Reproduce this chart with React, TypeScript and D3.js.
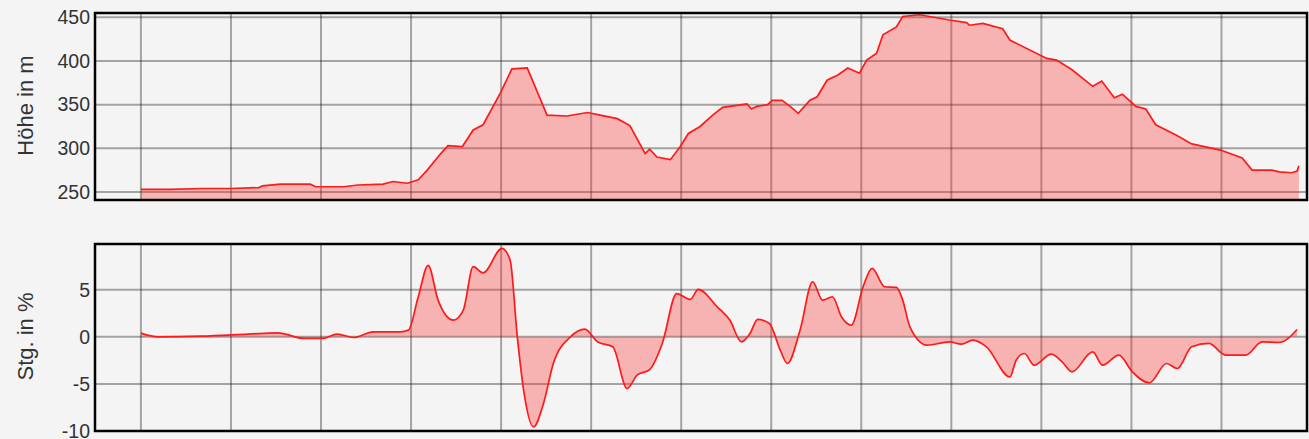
import React, { useEffect, useRef } from 'react';
import * as d3 from 'd3';

// Distance in km along the route
const elevKm = [
  0.0, 0.33, 0.67, 1.0, 1.31, 1.35, 1.55, 1.88, 1.94, 2.25, 2.41, 2.69, 2.8, 2.96, 3.08, 3.18, 3.33, 3.41, 3.57, 3.69,
  3.8, 3.99, 4.12, 4.29, 4.51, 4.73, 4.96, 5.1, 5.29, 5.43, 5.6, 5.65, 5.73, 5.88, 5.99, 6.08, 6.21, 6.35, 6.46, 6.73,
  6.78, 6.84, 6.96, 7.01, 7.12, 7.21, 7.3, 7.43, 7.51, 7.62, 7.74, 7.85, 7.98, 8.06, 8.17, 8.24, 8.39, 8.46, 8.65, 8.98,
  9.17, 9.2, 9.35, 9.57, 9.65, 10.06, 10.17, 10.34, 10.57, 10.67, 10.81, 10.9, 11.05, 11.16, 11.27, 11.5, 11.67, 11.99,
  12.23, 12.34, 12.56, 12.64, 12.78, 12.84, 12.86,
];
// Elevation in m
const elevM = [
  253, 253, 254, 254, 255, 257, 259, 259, 256, 256, 258, 259, 262, 260, 264, 275, 294, 303, 302, 321,
  327, 363, 391, 392, 338, 337, 341, 338, 334, 326, 294, 299, 290, 287, 302, 317, 325, 338, 347, 351,
  345, 348, 350, 355, 355, 348, 340, 355, 359, 378, 384, 392, 386, 401, 409, 430, 439, 451, 453, 447,
  444, 441, 443, 437, 424, 403, 401, 390, 371, 377, 358, 362, 348, 345, 327, 315, 305, 298,
  289, 275, 275, 273, 272, 274, 280,
];

const gradKm = [
  0.0, 0.19, 0.67, 1.19, 1.52, 1.81, 2.02, 2.18, 2.36, 2.58, 2.88, 2.97, 3.08, 3.19, 3.3, 3.47, 3.58, 3.69, 3.8, 4.01,
  4.1, 4.18, 4.25, 4.36, 4.47, 4.58, 4.77, 4.93, 5.07, 5.24, 5.4, 5.51, 5.65, 5.79, 5.95, 6.1, 6.19, 6.4, 6.54, 6.67,
  6.76, 6.85, 6.98, 7.1, 7.18, 7.32, 7.46, 7.57, 7.68, 7.78, 7.89, 8.02, 8.12, 8.26, 8.39, 8.46, 8.54, 8.73, 8.98, 9.11,
  9.24, 9.39, 9.65, 9.72, 9.81, 9.92, 10.11, 10.23, 10.34, 10.57, 10.68, 10.86, 11.01, 11.2, 11.39, 11.51, 11.67, 11.86,
  12.05, 12.27, 12.45, 12.64, 12.84,
];
// Gradient in %
const gradPct = [
  0.4, 0.0, 0.07, 0.29, 0.43, -0.17, -0.17, 0.29, -0.07, 0.53, 0.53, 0.71, 4.26, 7.6, 3.9, 1.78, 2.84, 7.45, 6.8, 9.4,
  8.16, 0, -5.67, -9.57, -7.1, -2.83, 0, 0.82, -0.53, -1.06, -5.49, -4.07, -3.47, -0.7, 4.6, 3.97, 5.04, 3.19, 1.78, -0.53,
  0.29, 1.85, 1.42, -1.42, -2.83, 0.71, 5.85, 3.9, 4.26, 2.13, 1.24, 5.32, 7.27, 5.32, 5.25, 3.9, 1.06, -0.88, -0.53, -0.78,
  -0.35, -1.06, -4.26, -2.48, -1.77, -3.01, -1.84, -2.66, -3.72, -1.6, -3.01, -1.95, -3.72, -4.89, -2.83, -3.36, -1.06, -0.7,
  -1.95, -1.95, -0.53, -0.6, 0.78,
];

const kmTicks = d3.range(0, 13);
const elevTicks = [250, 300, 350, 400, 450];
const gradTicks = [-10, -5, 0, 5];

const W = 1309;
const H = 439;
const FONT = '"Liberation Sans", Arial, sans-serif';

const App: React.FC = () => {
  const svgRef = useRef<SVGSVGElement>(null);

  useEffect(() => {
    const svg = d3.select(svgRef.current);
    svg.selectAll('*').remove();

    const left = 95;
    const right = 1307;
    const x = d3.scaleLinear().domain([-0.51, 12.95]).range([left, right]);

    const panels = [
      {
        top: 13, bottom: 200, domain: [240.8, 455], ticks: elevTicks, label: 'Höhe in m',
        xs: elevKm, ys: elevM, base: 240.8, curve: d3.curveLinear,
      },
      {
        top: 244, bottom: 431, domain: [-10, 9.86], ticks: gradTicks, label: 'Stg. in %',
        xs: gradKm, ys: gradPct, base: 0, curve: d3.curveMonotoneX,
      },
    ];

    svg.append('rect').attr('width', W).attr('height', H).attr('fill', '#f4f4f4');

    panels.forEach((p) => {
      const y = d3.scaleLinear().domain(p.domain).range([p.bottom, p.top]);
      const g = svg.append('g');
      const pts = p.xs.map((k, i) => [k, p.ys[i]] as [number, number]);

      // grid
      g.selectAll('.vg').data(kmTicks).join('line')
        .attr('x1', (d) => x(d)).attr('x2', (d) => x(d))
        .attr('y1', p.top).attr('y2', p.bottom)
        .attr('stroke', 'rgba(0,0,0,0.33)').attr('stroke-width', 2);
      g.selectAll('.hg').data(p.ticks).join('line')
        .attr('x1', left).attr('x2', right)
        .attr('y1', (d) => y(d)).attr('y2', (d) => y(d))
        .attr('stroke', 'rgba(0,0,0,0.33)').attr('stroke-width', 2);

      const area = d3.area<[number, number]>()
        .x((d) => x(d[0])).y0(y(p.base)).y1((d) => y(d[1])).curve(p.curve);
      const line = d3.line<[number, number]>()
        .x((d) => x(d[0])).y((d) => y(d[1])).curve(p.curve);

      g.append('path').attr('d', area(pts)).attr('fill', 'rgba(255,40,40,0.32)');
      g.append('path').attr('d', line(pts)).attr('fill', 'none')
        .attr('stroke', '#ff1a1a').attr('stroke-width', 1.7);

      // frame
      g.append('rect').attr('x', left).attr('y', p.top)
        .attr('width', right - left).attr('height', p.bottom - p.top)
        .attr('fill', 'none').attr('stroke', '#000').attr('stroke-width', 2.5);

      const axis = d3.axisLeft(y).tickValues(p.ticks).tickSize(0).tickPadding(4)
        .tickFormat((d) => String(d));
      const ag = g.append('g').attr('transform', `translate(${left - 1},0)`).call(axis);
      ag.select('.domain').remove();
      ag.selectAll('text')
        .attr('font-family', FONT)
        .attr('font-size', 19.5).attr('fill', '#333');

      g.append('text')
        .attr('transform', `translate(33,${(p.top + p.bottom) / 2 - 1}) rotate(-90)`)
        .attr('text-anchor', 'middle')
        .attr('font-family', FONT)
        .attr('font-size', 22).attr('fill', '#333')
        .text(p.label);
    });
  }, []);

  return (
    <svg
      ref={svgRef}
      width={W}
      height={H}
      style={{ position: 'absolute', left: 0, top: 0, display: 'block' }}
    />
  );
};

export default App;
